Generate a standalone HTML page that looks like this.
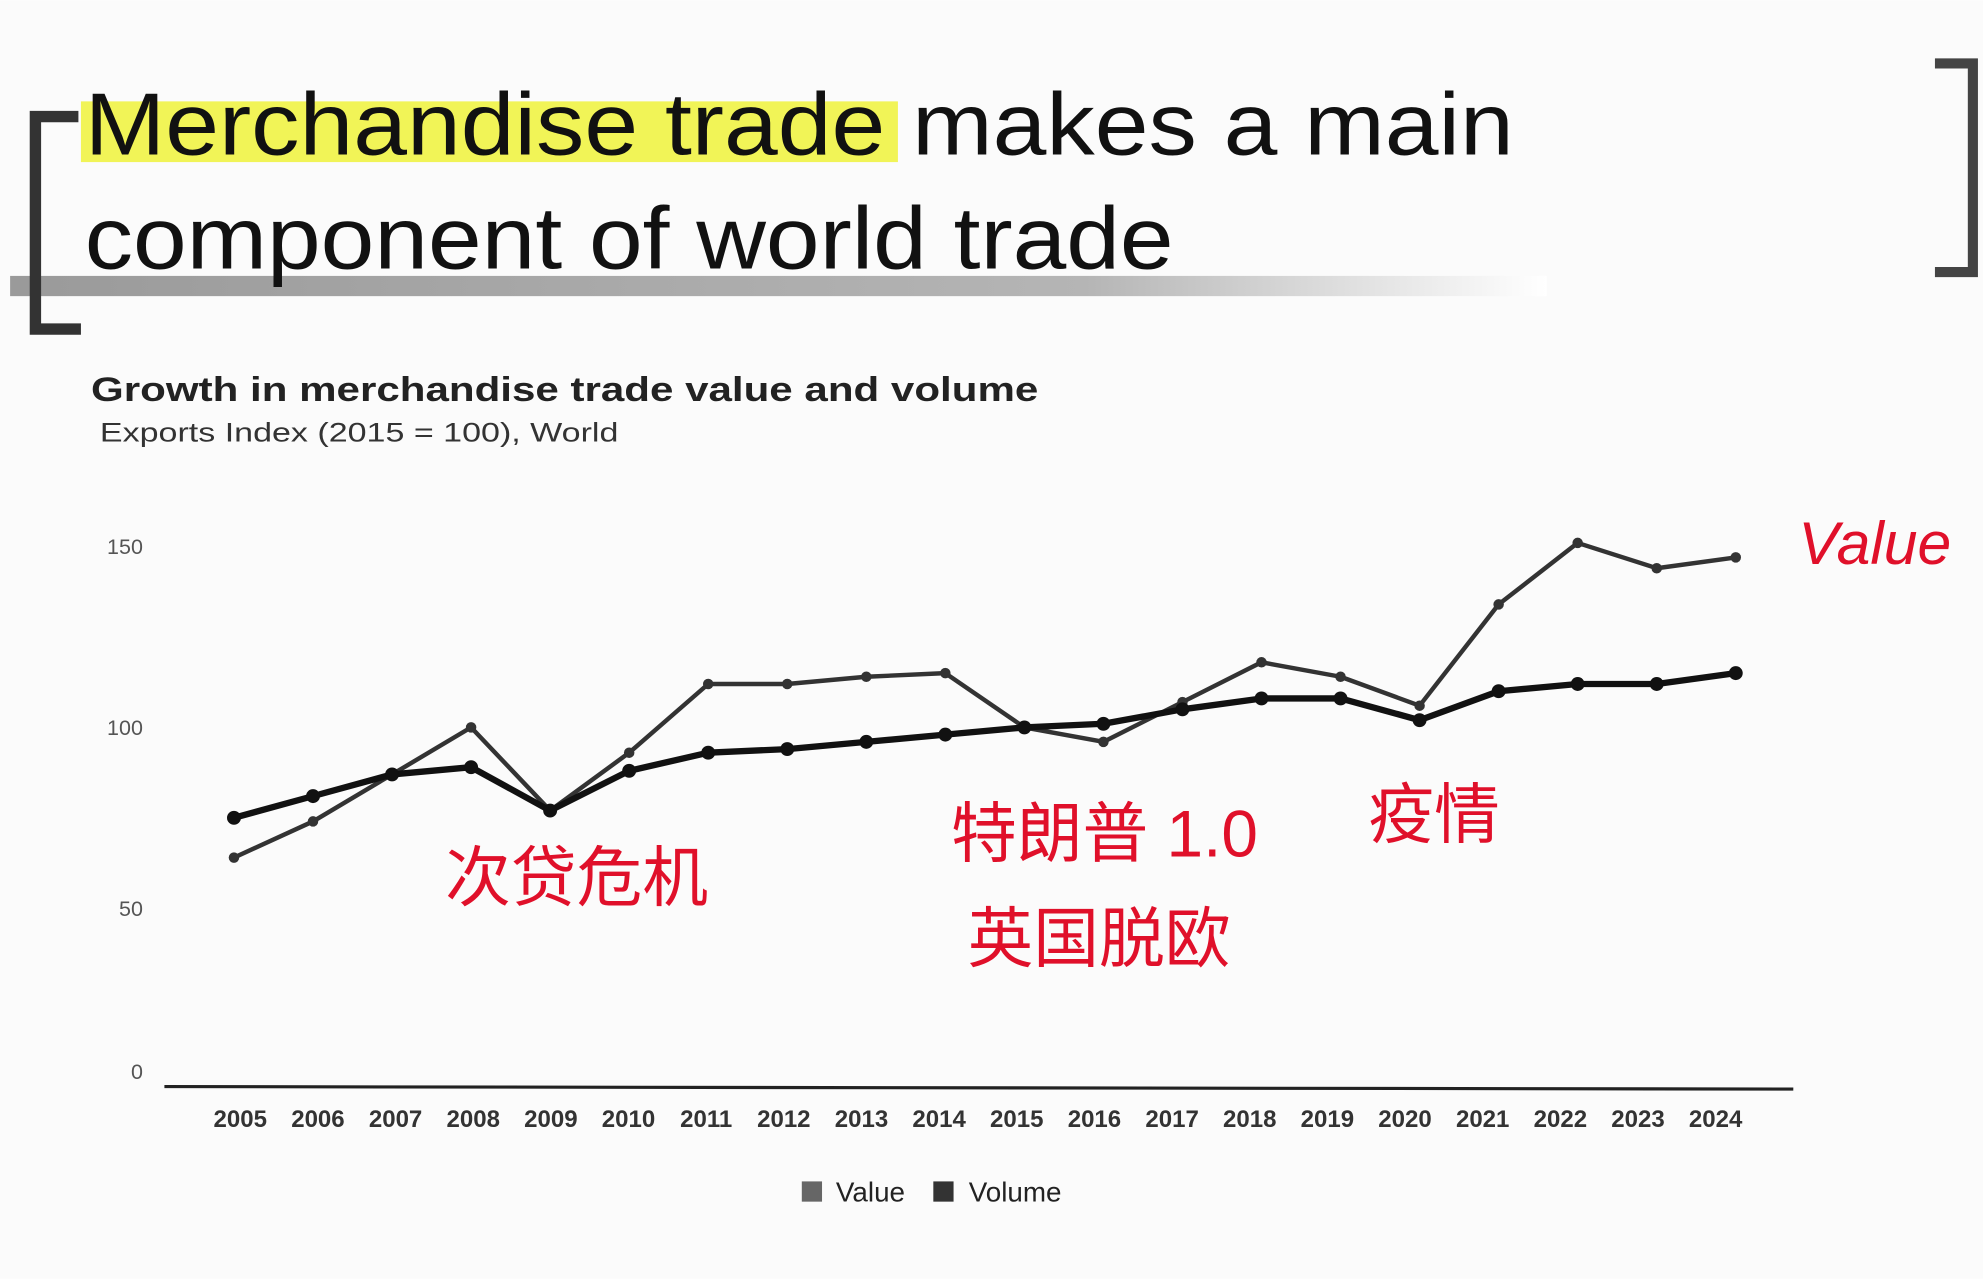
<!DOCTYPE html>
<html><head><meta charset="utf-8">
<style>
html,body{margin:0;padding:0;background:#fff;}
svg{display:block;}
text{font-family:"Liberation Sans","Noto Sans CJK SC",sans-serif;}
</style></head>
<body>
<svg width="1983" height="1279" viewBox="0 0 1568 1011" xmlns="http://www.w3.org/2000/svg">
<defs>
<linearGradient id="bar" x1="0" x2="1"><stop offset="0" stop-color="#9a9a9a"/><stop offset="0.7" stop-color="#b5b5b5"/><stop offset="1" stop-color="#fff"/></linearGradient>
</defs>
<rect x="0" y="0" width="1568" height="1011" fill="#fbfbfb"/>
<rect x="64" y="80" width="646" height="48" fill="#eef23a" opacity="0.85"/>
<rect x="8" y="218" width="1215" height="16" fill="url(#bar)"/>
<path d="M62 92 H28 V260 H64" fill="none" stroke="#333" stroke-width="9"/>
<path d="M1530 50 H1560 V215 H1530" fill="none" stroke="#444" stroke-width="8"/>
<text x="67" y="122" font-size="70" fill="#111" textLength="1130" lengthAdjust="spacingAndGlyphs">Merchandise trade makes a main</text>
<text x="67" y="212" font-size="70" fill="#111" textLength="861" lengthAdjust="spacingAndGlyphs">component of world trade</text>
<text x="72" y="317" font-size="27" font-weight="bold" fill="#222" textLength="749" lengthAdjust="spacingAndGlyphs">Growth in merchandise trade value and volume</text>
<text x="79" y="349" font-size="21" fill="#333" textLength="410" lengthAdjust="spacingAndGlyphs">Exports Index (2015 = 100), World</text>
<g id="chart"></g>
<g>
<rect x="634" y="934" width="16" height="16" fill="#666"/>
<text x="661" y="950" font-size="22" fill="#222">Value</text>
<rect x="738" y="934" width="16" height="16" fill="#333"/>
<text x="766" y="950" font-size="22" fill="#222">Volume</text>
</g>
<g fill="#e0102a" font-family="'Noto Sans CJK SC',sans-serif">
<text x="352" y="712" font-size="52">次贷危机</text>
<text x="752" y="677" font-size="52">特朗普 1.0</text>
<text x="765" y="760" font-size="52">英国脱欧</text>
<text x="1082" y="662" font-size="52">疫情</text>
<text x="1422" y="446" font-size="48" font-style="italic" font-family="'Liberation Sans',sans-serif">Value</text>
</g>
</svg>
<script>
const years=["2005","2006","2007","2008","2009","2010","2011","2012","2013","2014","2015","2016","2017","2018","2019","2020","2021","2022","2023","2024"];
const valueSeries=[64,74,87,100,77,93,112,112,114,115,100,96,107,118,114,106,134,151,144,147];
const volumeSeries=[75,81,87,89,77,88,93,94,96,98,100,101,105,108,108,102,110,112,112,115];
const yTicks=[0,50,100,150];
const NS="http://www.w3.org/2000/svg";
const g=document.getElementById('chart');
const xs=i=>185+i*62.5, ys=v=>861-2.86*v;
function el(t,a){const e=document.createElementNS(NS,t);for(const k in a)e.setAttribute(k,a[k]);g.appendChild(e);return e;}
const ax=el('line',{x1:130,y1:859,x2:1418,y2:861,stroke:'#222','stroke-width':2.5});


yTicks.forEach(v=>{const t=el('text',{x:113,y:ys(v)+(v===0?-8:6),'font-size':17,fill:'#555','text-anchor':'end'});t.textContent=v;

});
years.forEach((y,i)=>{const t=el('text',{x:190+i*61.4,y:891,'font-size':19,fill:'#333','text-anchor':'middle','font-weight':'bold'});t.textContent=y;

});
function series(data,w,col,name){
const p=el('polyline',{points:data.map((v,i)=>xs(i)+','+ys(v)).join(' '),fill:'none',stroke:col,'stroke-width':w,'stroke-linejoin':'round'});


data.forEach((v,i)=>{const c=el('circle',{cx:xs(i),cy:ys(v),r:w*0.9+1,fill:col});

});}
series(valueSeries,3.5,'#333','value');
series(volumeSeries,5,'#111','volume');
</script>
</body></html>
